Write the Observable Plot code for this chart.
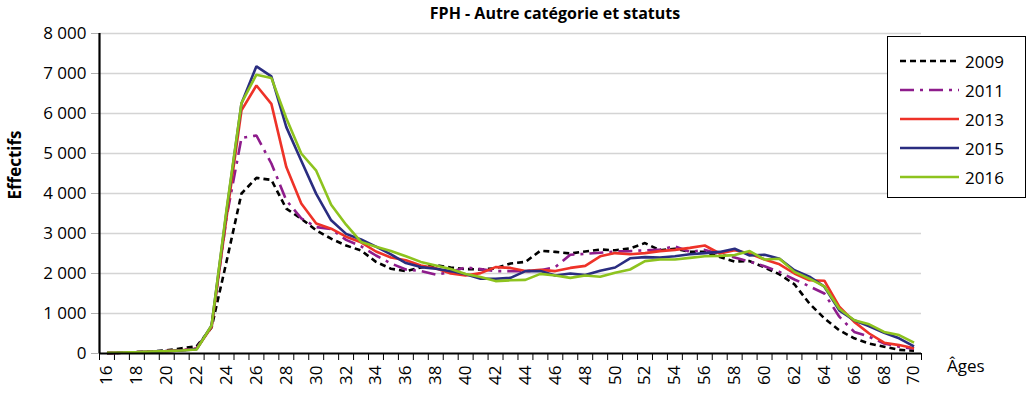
<!DOCTYPE html>
<html>
<head>
<meta charset="utf-8">
<script src="https://cdn.jsdelivr.net/npm/d3@7"></script>
<script src="https://cdn.jsdelivr.net/npm/@observablehq/plot@0.6"></script>
<style>
  body { margin: 0; background: #fff; font-family: "Open Sans", sans-serif; }
  #wrap { position: relative; width: 1028px; height: 395px; overflow: hidden; }
  #title { position: absolute; left: 0; width: 1110px; top: 2px; text-align: center;
           font-weight: bold; font-size: 16px; color: #000; }
  #ylab { position: absolute; left: 14px; top: 165px; font-weight: bold; font-size: 17px;
          transform: translate(-50%, -50%) rotate(-90deg); white-space: nowrap; }
  #xlab { position: absolute; left: 947px; top: 354px; font-size: 17px; }
  #legend { position: absolute; left: 887px; top: 36px; width: 137px; height: 160px;
            border: 1.5px solid #000; background: #fff; }
  .item { position: absolute; left: 12px; height: 22px; display: flex; align-items: center; }
  .item span { font-size: 17px; margin-left: 5px; }
</style>
</head>
<body>
<div id="wrap">
  <div id="chart"></div>
  <div id="title">FPH - Autre catégorie et statuts</div>
  <div id="ylab">Effectifs</div>
  <div id="xlab">Âges</div>
  <div id="legend"></div>
</div>
<script>
// Ages 16 to 70, one category per year of age
const ages = d3.range(16, 71);
const ageLabels = d3.range(16, 71, 2);
const yTicks = [0, 1000, 2000, 3000, 4000, 5000, 6000, 7000, 8000];

const v2009 = [10,20,35,50,80,130,180,650,2300,4000, 4390,4340,3620,3370,3080,2870,2700,2575,2290,2120,
  2060,2150,2210,2150,2110,2100,2130,2250,2290,2570, 2540,2500,2550,2600,2580,2630,2760,2580,2620,2540,
  2540,2410,2300,2310,2150,1980,1730,1250,880,580, 380,250,170,90,70];
const v2011 = [10,20,35,45,60,80,130,680,3400,5390, 5450,4750,3830,3380,3160,3110,2840,2680,2450,2250,
  2100,2060,1970,2040,2150,2110,2060,2060,2060,2080, 2160,2470,2490,2520,2550,2560,2580,2600,2680,2540,
  2590,2490,2400,2300,2180,2040,1850,1680,1500,920, 540,420,250,170,120];
const v2013 = [10,20,30,45,60,80,120,660,3400,6080, 6700,6240,4660,3750,3250,3120,2920,2780,2550,2400,
  2330,2200,2130,2000,1950,2010,2160,2140,2060,2090, 2060,2140,2190,2430,2510,2480,2510,2560,2590,2640,
  2700,2500,2580,2500,2350,2230,2000,1830,1820,1170, 790,500,270,210,130];
const v2015 = [10,20,30,40,55,75,110,700,3550,6250, 7180,6930,5660,4820,3990,3330,2990,2850,2670,2480,
  2260,2160,2120,2060,1980,1870,1870,1890,2060,2060, 1950,2000,1960,2070,2150,2380,2410,2400,2430,2480,
  2510,2540,2620,2450,2470,2370,2080,1920,1670,1080, 830,680,520,380,180];
const v2016 = [15,25,35,50,60,75,100,700,3600,6260, 6970,6890,5880,5000,4570,3720,3220,2790,2670,2560,
  2430,2290,2200,2110,1990,1910,1810,1830,1840,1990, 1950,1890,1950,1920,2020,2100,2310,2350,2350,2390,
  2430,2440,2460,2560,2350,2370,2040,1870,1680,1120, 830,730,540,460,270];

const years = ["2009", "2011", "2013", "2015", "2016"];
const colors = ["#000000", "#8e1c8c", "#ee3228", "#2a2d80", "#8dc31e"];
const dashes = ["6,4", "14,6,3,6", null, null, null];
const values = [v2009, v2011, v2013, v2015, v2016];

const series = years.map((year, k) => ({
  year, color: colors[k], dash: dashes[k],
  rows: ages.map((age, i) => ({age, value: values[k][i]}))
}));

// French thousands grouping: "8 000"
const fmt = d => d3.format(",")(d).replace(/,/g, " ");

const chart = Plot.plot({
  width: 1028,
  height: 395,
  marginLeft: 99,
  marginRight: 107,
  marginTop: 33,
  marginBottom: 42,
  style: {fontFamily: "Open Sans, sans-serif", fontSize: "17px", color: "#000", background: "#fff"},
  x: {type: "linear", domain: [15.5, 70.5]},
  y: {domain: [0, 8000]},
  marks: [
    Plot.ruleY(yTicks.slice(1), {stroke: "#d4d4d4", strokeWidth: 1.5}),
    Plot.axisY(yTicks, {tickSize: 8, tickPadding: 5, stroke: "#b0b0b0", tickFormat: fmt, label: null, fill: "#000", fontSize: 17}),
    Plot.axisX(d3.range(15.5, 71, 1), {tickSize: 7, tickFormat: () => "", label: null, stroke: "#000"}),
    Plot.axisX(ageLabels, {tickSize: 0, tickPadding: 12, tickRotate: -90, label: null, fontSize: 17}),
    ...series.map(s => Plot.line(s.rows, {
      x: "age", y: "value", stroke: s.color, strokeWidth: 2.6,
      strokeDasharray: s.dash, strokeLinejoin: "miter", strokeLinecap: "butt"
    })),
    Plot.ruleX([15.5], {stroke: "#000", strokeWidth: 2.2}),
    Plot.ruleY([0], {stroke: "#000", strokeWidth: 2.2})
  ]
});
document.getElementById("chart").appendChild(chart);

// Legend entries
const legend = document.getElementById("legend");
series.forEach((s, k) => {
  const item = document.createElement("div");
  item.className = "item";
  item.style.top = (13 + k * 29) + "px";
  item.innerHTML = `<svg width="60" height="6"><line x1="0" x2="59" y1="3" y2="3" stroke="${s.color}"
    stroke-width="2.6" ${s.dash ? `stroke-dasharray="${s.dash}"` : ""}/></svg><span>${s.year}</span>`;
  legend.appendChild(item);
});
</script>
</body>
</html>
